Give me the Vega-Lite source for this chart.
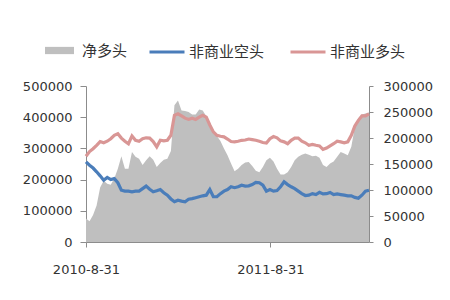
{
  "$schema": "https://vega.github.io/schema/vega-lite/v6.json",
  "width": 283,
  "height": 156,
  "autosize": {"type": "none"},
  "padding": {"left": 86, "top": 86, "right": 81, "bottom": 58},
  "background": "white",
  "config": {"view": {"stroke": null}, "axis": {"grid": false, "title": null}},
  "data": {"values": [
    {"date": "2010-08-31", "净多头": 45000, "非商业空头": 257000, "非商业多头": 275000},
    {"date": "2010-09-07", "净多头": 40000, "非商业空头": 246000, "非商业多头": 290000},
    {"date": "2010-09-14", "净多头": 52000, "非商业空头": 237000, "非商业多头": 299000},
    {"date": "2010-09-21", "净多头": 70000, "非商业空头": 225000, "非商业多头": 310000},
    {"date": "2010-09-28", "净多头": 105000, "非商业空头": 212000, "非商业多头": 322000},
    {"date": "2010-10-05", "净多头": 118000, "非商业空头": 198000, "非商业多头": 318000},
    {"date": "2010-10-12", "净多头": 112000, "非商业空头": 207000, "非商业多头": 323000},
    {"date": "2010-10-19", "净多头": 110000, "非商业空头": 200000, "非商业多头": 331000},
    {"date": "2010-10-26", "净多头": 122000, "非商业空头": 203000, "非商业多头": 342000},
    {"date": "2010-11-02", "净多头": 141000, "非商业空头": 190000, "非商业多头": 347000},
    {"date": "2010-11-09", "净多头": 165000, "非商业空头": 166000, "非商业多头": 333000},
    {"date": "2010-11-16", "净多头": 141000, "非商业空头": 163000, "非商业多头": 323000},
    {"date": "2010-11-23", "净多头": 141000, "非商业空头": 163000, "非商业多头": 315000},
    {"date": "2010-11-30", "净多头": 173000, "非商业空头": 161000, "非商业多头": 340000},
    {"date": "2010-12-07", "净多头": 164000, "非商业空头": 163000, "非商业多头": 326000},
    {"date": "2010-12-14", "净多头": 160000, "非商业空头": 163000, "非商业多头": 323000},
    {"date": "2010-12-21", "净多头": 148000, "非商业空头": 171000, "非商业多头": 331000},
    {"date": "2010-12-28", "净多头": 157000, "非商业空头": 179000, "非商业多头": 334000},
    {"date": "2011-01-04", "净多头": 165000, "非商业空头": 169000, "非商业多头": 333000},
    {"date": "2011-01-11", "净多头": 158000, "非商业空头": 161000, "非商业多头": 322000},
    {"date": "2011-01-18", "净多头": 144000, "非商业空头": 164000, "非商业多头": 305000},
    {"date": "2011-01-25", "净多头": 152000, "非商业空头": 168000, "非商业多头": 326000},
    {"date": "2011-02-01", "净多头": 158000, "非商业空头": 158000, "非商业多头": 324000},
    {"date": "2011-02-08", "净多头": 160000, "非商业空头": 150000, "非商业多头": 326000},
    {"date": "2011-02-15", "净多头": 175000, "非商业空头": 138000, "非商业多头": 342000},
    {"date": "2011-02-22", "净多头": 263000, "非商业空头": 129000, "非商业多头": 406000},
    {"date": "2011-03-01", "净多头": 272000, "非商业空头": 134000, "非商业多头": 411000},
    {"date": "2011-03-08", "净多头": 253000, "非商业空头": 131000, "非商业多头": 404000},
    {"date": "2011-03-15", "净多头": 252000, "非商业空头": 129000, "非商业多头": 397000},
    {"date": "2011-03-22", "净多头": 250000, "非商业空头": 137000, "非商业多头": 393000},
    {"date": "2011-03-29", "净多头": 245000, "非商业空头": 139000, "非商业多头": 397000},
    {"date": "2011-04-05", "净多头": 245000, "非商业空头": 142000, "非商业多头": 393000},
    {"date": "2011-04-12", "净多头": 255000, "非商业空头": 145000, "非商业多头": 400000},
    {"date": "2011-04-19", "净多头": 253000, "非商业空头": 148000, "非商业多头": 406000},
    {"date": "2011-04-26", "净多头": 242000, "非商业空头": 150000, "非商业多头": 400000},
    {"date": "2011-05-03", "净多头": 226000, "非商业空头": 168000, "非商业多头": 375000},
    {"date": "2011-05-10", "净多头": 210000, "非商业空头": 145000, "非商业多头": 353000},
    {"date": "2011-05-17", "净多头": 204000, "非商业空头": 145000, "非商业多头": 342000},
    {"date": "2011-05-24", "净多头": 194000, "非商业空头": 155000, "非商业多头": 339000},
    {"date": "2011-05-31", "净多头": 180000, "非商业空头": 163000, "非商业多头": 337000},
    {"date": "2011-06-07", "净多头": 167000, "非商业空头": 168000, "非商业多头": 330000},
    {"date": "2011-06-14", "净多头": 151000, "非商业空头": 177000, "非商业多头": 322000},
    {"date": "2011-06-21", "净多头": 136000, "非商业空头": 174000, "非商业多头": 321000},
    {"date": "2011-06-28", "净多头": 141000, "非商业空头": 177000, "非商业多头": 323000},
    {"date": "2011-07-05", "净多头": 148000, "非商业空头": 182000, "非商业多头": 326000},
    {"date": "2011-07-12", "净多头": 153000, "非商业空头": 179000, "非商业多头": 327000},
    {"date": "2011-07-19", "净多头": 154000, "非商业空头": 180000, "非商业多头": 330000},
    {"date": "2011-07-26", "净多头": 146000, "非商业空头": 184000, "非商业多头": 328000},
    {"date": "2011-08-02", "净多头": 137000, "非商业空头": 191000, "非商业多头": 326000},
    {"date": "2011-08-09", "净多头": 134000, "非商业空头": 190000, "非商业多头": 323000},
    {"date": "2011-08-16", "净多头": 144000, "非商业空头": 182000, "非商业多头": 319000},
    {"date": "2011-08-23", "净多头": 157000, "非商业空头": 163000, "非商业多头": 317000},
    {"date": "2011-08-30", "净多头": 162000, "非商业空头": 168000, "非商业多头": 331000},
    {"date": "2011-09-06", "净多头": 155000, "非商业空头": 163000, "非商业多头": 338000},
    {"date": "2011-09-13", "净多头": 141000, "非商业空头": 165000, "非商业多头": 334000},
    {"date": "2011-09-20", "净多头": 130000, "非商业空头": 177000, "非商业多头": 324000},
    {"date": "2011-09-27", "净多头": 130000, "非商业空头": 193000, "非商业多头": 321000},
    {"date": "2011-10-04", "净多头": 134000, "非商业空头": 184000, "非商业多头": 315000},
    {"date": "2011-10-11", "净多头": 144000, "非商业空头": 177000, "非商业多头": 326000},
    {"date": "2011-10-18", "净多头": 157000, "非商业空头": 171000, "非商业多头": 333000},
    {"date": "2011-10-25", "净多头": 164000, "非商业空头": 163000, "非商业多头": 333000},
    {"date": "2011-11-01", "净多头": 168000, "非商业空头": 155000, "非商业多头": 323000},
    {"date": "2011-11-08", "净多头": 170000, "非商业空头": 149000, "非商业多头": 318000},
    {"date": "2011-11-15", "净多头": 168000, "非商业空头": 150000, "非商业多头": 310000},
    {"date": "2011-11-22", "净多头": 165000, "非商业空头": 155000, "非商业多头": 313000},
    {"date": "2011-11-29", "净多头": 166000, "非商业空头": 152000, "非商业多头": 310000},
    {"date": "2011-12-06", "净多头": 162000, "非商业空头": 159000, "非商业多头": 308000},
    {"date": "2011-12-13", "净多头": 148000, "非商业空头": 154000, "非商业多头": 297000},
    {"date": "2011-12-20", "净多头": 144000, "非商业空头": 155000, "非商业多头": 301000},
    {"date": "2011-12-27", "净多头": 151000, "非商业空头": 159000, "非商业多头": 308000},
    {"date": "2012-01-03", "净多头": 155000, "非商业空头": 152000, "非商业多头": 315000},
    {"date": "2012-01-10", "净多头": 164000, "非商业空头": 154000, "非商业多头": 323000},
    {"date": "2012-01-17", "净多头": 173000, "非商业空头": 152000, "非商业多头": 321000},
    {"date": "2012-01-24", "净多头": 170000, "非商业空头": 150000, "非商业多头": 318000},
    {"date": "2012-01-31", "净多头": 167000, "非商业空头": 148000, "非商业多头": 321000},
    {"date": "2012-02-07", "净多头": 183000, "非商业空头": 148000, "非商业多头": 342000},
    {"date": "2012-02-14", "净多头": 221000, "非商业空头": 143000, "非商业多头": 372000},
    {"date": "2012-02-21", "净多头": 238000, "非商业空头": 140000, "非商业多头": 390000},
    {"date": "2012-02-28", "净多头": 245000, "非商业空头": 150000, "非商业多头": 404000},
    {"date": "2012-03-06", "净多头": 247000, "非商业空头": 163000, "非商业多头": 404000},
    {"date": "2012-03-13", "净多头": 249000, "非商业空头": 166000, "非商业多头": 411000}
  ]},
  "layer": [
    {
      "mark": {"type": "area", "interpolate": "linear"},
      "encoding": {
        "x": {"field": "date", "type": "temporal", "scale": {"type": "utc", "nice": false},
          "axis": {"values": [{"year": 2010, "month": 8, "date": 31, "utc": true}, {"year": 2011, "month": 8, "date": 31, "utc": true}],
            "format": "%Y-%-m-%d", "labelFont": "DejaVu Sans", "labelFontSize": 13, "labelColor": "#333",
            "domainColor": "#8c8c8c", "tickColor": "#8c8c8c", "tickSize": 5, "labelPadding": 16, "labelFlush": false}},
        "y": {"field": "净多头", "type": "quantitative", "scale": {"domain": [0, 300000], "nice": false},
          "axis": {"orient": "right", "values": [0, 50000, 100000, 150000, 200000, 250000, 300000], "format": "d",
            "labelFont": "DejaVu Sans", "labelFontSize": 13, "labelColor": "#333",
            "domainColor": "#8c8c8c", "tickColor": "#8c8c8c", "tickSize": 4, "labelPadding": 10}},
        "fill": {"datum": "净多头", "scale": {"domain": ["净多头"], "range": ["#BFBFBF"]},
          "legend": {"title": null, "orient": "none", "legendX": -41, "legendY": -50, "padding": 0,
            "symbolType": "M-1,-0.25H1V0.25H-1Z", "symbolSize": 841, "symbolStrokeWidth": 0,
            "labelFont": "Noto Sans CJK SC", "labelFontSize": 15, "labelColor": "#333", "labelOffset": 8}}
      }
    },
    {
      "transform": [{"fold": ["非商业空头", "非商业多头"], "as": ["series", "value"]}],
      "mark": {"type": "line", "strokeWidth": 3.2, "interpolate": "linear"},
      "encoding": {
        "x": {"field": "date", "type": "temporal", "scale": {"type": "utc", "nice": false}},
        "y": {"field": "value", "type": "quantitative", "scale": {"domain": [0, 500000], "nice": false},
          "axis": {"orient": "left", "values": [0, 100000, 200000, 300000, 400000, 500000], "format": "d",
            "labelFont": "DejaVu Sans", "labelFontSize": 13, "labelColor": "#333",
            "domainColor": "#8c8c8c", "tickColor": "#8c8c8c", "tickSize": 6, "labelPadding": 8}},
        "stroke": {"field": "series", "type": "nominal",
          "scale": {"domain": ["非商业空头", "非商业多头"], "range": ["#4A7DBA", "#D99695"]},
          "legend": {"title": null, "orient": "none", "direction": "horizontal", "legendX": 62, "legendY": -53, "padding": 0,
            "symbolType": "stroke", "symbolSize": 1225, "symbolStrokeWidth": 3,
            "labelFont": "Noto Sans CJK SC", "labelFontSize": 15, "labelColor": "#333", "labelOffset": 3, "columnPadding": 19}}
      }
    }
  ],
  "resolve": {"scale": {"y": "independent", "fill": "independent", "stroke": "independent"}}
}
